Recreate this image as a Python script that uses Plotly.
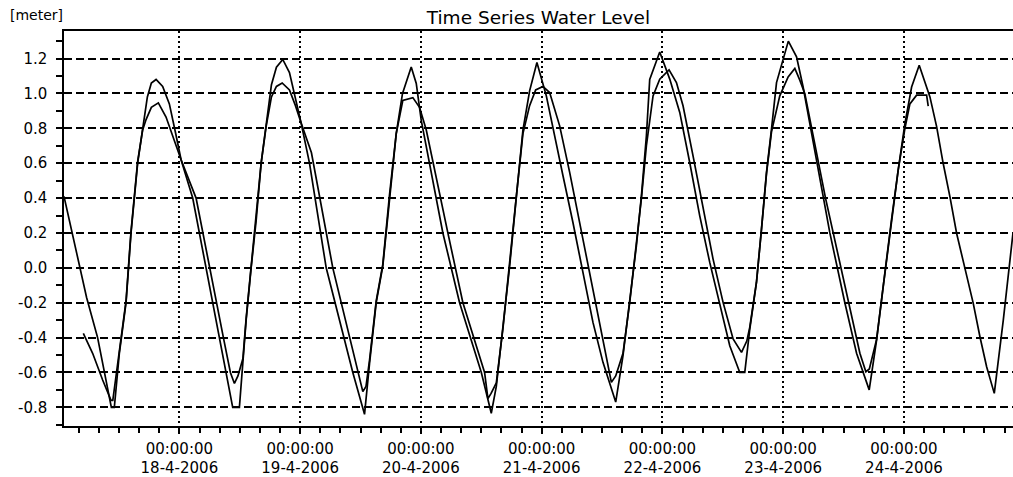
import pandas as pd
import plotly.graph_objects as go

BASE = pd.Timestamp("2006-04-17 00:00:00")

# Series A (outer curve): hours since 17-4-2006 00:00 and water level [m]
A_hours = [1.07, 5.56, 7.75, 10.48, 11.07,
           12.07, 13.40, 14.39, 15.71, 16.70, 17.64, 18.43, 19.37,
           20.68, 22.01, 23.34, 24.34, 26.65, 29.31, 31.82, 33.55, 34.60, 35.93,
           36.53, 37.27, 38.26, 39.26, 40.25, 41.24, 42.30, 43.29, 44.55,
           45.88, 47.07, 48.20, 49.86, 53.18, 58.47, 60.80,
           61.79, 63.12, 64.43, 65.77, 67.10, 68.35, 70.08,
           71.08, 72.07, 76.37, 79.69, 84.01, 85.99,
           86.99, 88.30, 89.63, 90.97, 92.28, 93.61, 95.06,
           96.93, 98.25, 100.24, 102.22, 104.21, 106.20, 108.19, 110.72,
           112.17, 113.50, 114.83, 115.83, 116.82, 117.48, 119.47,
           121.46, 123.45, 125.43, 127.42, 129.41, 131.40, 133.39, 135.38, 136.37,
           137.37, 138.70, 139.69, 140.69, 141.68, 142.68, 145.03,
           146.66, 147.97, 151.95, 153.28, 156.26, 158.59, 161.10,
           162.57, 163.88, 165.55, 166.86, 168.20, 169.53, 171.04,
           173.17, 174.50, 175.81, 177.15, 178.48, 180.13, 181.78, 183.11, 184.44, 185.96,
           187.75, 189.68]
A_level = [0.41, -0.17, -0.40, -0.80, -0.80,
           -0.49, -0.20, 0.20, 0.60, 0.81, 0.98, 1.06, 1.08,
           1.04, 0.94, 0.76, 0.62, 0.40, 0.00, -0.40, -0.66, -0.80, -0.80,
           -0.56, -0.30, 0.00, 0.27, 0.60, 0.81, 1.05, 1.15, 1.195,
           1.12, 0.97, 0.83, 0.60, 0.00, -0.60, -0.84,
           -0.55, -0.20, 0.01, 0.41, 0.77, 1.00, 1.152,
           1.057, 0.846, 0.20, -0.20, -0.60, -0.834,
           -0.68, -0.357, 0.006, 0.407, 0.79, 1.015, 1.177,
           0.986, 0.795, 0.528, 0.26, -0.026, -0.313, -0.542, -0.77,
           -0.504, -0.198, 0.126, 0.413, 0.757, 1.08, 1.238,
           1.082, 0.891, 0.604, 0.298, 0.031, -0.217, -0.447, -0.60, -0.60,
           -0.351, -0.084, 0.222, 0.547, 0.795, 1.062, 1.30,
           1.21, 1.037, 0.40, 0.20, -0.20, -0.49, -0.70,
           -0.414, -0.109, 0.273, 0.56, 0.827, 1.037, 1.162,
           0.98, 0.81, 0.598, 0.407, 0.197, -0.003, -0.204, -0.395, -0.567, -0.72,
           -0.30, 0.20]

# Series B (inner curve)
B_hours = [4.91, 6.76, 8.75, 10.42, 10.77,
           12.07, 13.40, 14.39, 15.71, 16.70, 17.38, 18.43, 19.82,
           21.35, 23.01, 24.34, 27.32, 29.97, 32.75, 34.14, 34.94,
           35.64, 36.63, 37.27, 38.26, 39.26, 40.25, 41.24, 42.30, 43.29, 44.43,
           45.88, 47.07, 48.20, 50.25, 54.49, 59.46, 60.46,
           61.09, 61.79, 63.12, 64.43, 65.77, 67.10, 68.41, 70.40,
           71.73, 73.07, 77.36, 80.35, 84.66, 85.32,
           85.95, 86.99, 88.30, 89.63, 90.97, 92.28, 93.61, 94.81, 96.26,
           97.59, 99.58, 101.57, 103.56, 105.55, 107.53, 109.86,
           110.72, 112.17, 113.50, 114.83, 115.83, 116.82, 117.48, 118.14, 119.47, 121.32,
           122.79, 124.10, 126.09, 128.08, 130.07, 132.06, 134.05, 135.72,
           136.77, 137.37, 138.70, 139.69, 140.69, 141.68, 143.33, 144.99, 146.32,
           147.31, 148.31, 152.42, 153.94, 156.92, 159.25, 160.44,
           161.13, 162.57, 163.88, 165.55, 166.86, 168.20, 169.19, 170.52, 172.51, 172.83]
B_level = [-0.376, -0.49, -0.643, -0.76, -0.76,
           -0.47, -0.19, 0.21, 0.61, 0.79, 0.85, 0.92, 0.946,
           0.865, 0.73, 0.62, 0.40, 0.00, -0.40, -0.60, -0.663,
           -0.62, -0.52, -0.29, 0.01, 0.28, 0.60, 0.81, 0.98, 1.04, 1.06,
           1.02, 0.93, 0.83, 0.66, 0.00, -0.60, -0.71,
           -0.68, -0.53, -0.19, 0.02, 0.42, 0.77, 0.96, 0.976,
           0.92, 0.79, 0.20, -0.20, -0.60, -0.75,
           -0.72, -0.66, -0.35, 0.01, 0.41, 0.77, 0.93, 1.02, 1.04,
           1.005, 0.814, 0.547, 0.26, -0.045, -0.332, -0.657,
           -0.62, -0.49, -0.20, 0.126, 0.40, 0.70, 0.85, 0.986, 1.082, 1.135,
           1.062, 0.929, 0.642, 0.337, 0.05, -0.198, -0.408, -0.485,
           -0.42, -0.34, -0.08, 0.22, 0.54, 0.78, 0.986, 1.095, 1.143,
           1.076, 0.999, 0.40, 0.20, -0.20, -0.49, -0.596,
           -0.58, -0.41, -0.10, 0.28, 0.56, 0.80, 0.94, 0.99, 0.99, 0.927]

assert len(A_hours) == len(A_level)
assert len(B_hours) == len(B_level)

DAY_TICKS = ["2006-04-18", "2006-04-19", "2006-04-20", "2006-04-21",
             "2006-04-22", "2006-04-23", "2006-04-24"]
DAY_LABELS = ["00:00:00<br>18-4-2006", "00:00:00<br>19-4-2006", "00:00:00<br>20-4-2006",
              "00:00:00<br>21-4-2006", "00:00:00<br>22-4-2006", "00:00:00<br>23-4-2006",
              "00:00:00<br>24-4-2006"]
Y_TICKS = [-0.8, -0.6, -0.4, -0.2, 0.0, 0.2, 0.4, 0.6, 0.8, 1.0, 1.2]
Y_LABELS = ["-0.8", "-0.6", "-0.4", "-0.2", "0.0", "0.2", "0.4", "0.6", "0.8", "1.0", "1.2"]

X_START_H = 1.07
X_END_H = 189.68
Y_RANGE = [-0.907, 1.358]


def to_time(hours):
    return [BASE + pd.Timedelta(hours=h) for h in hours]


FONT = "DejaVu Sans"

fig = go.Figure()
fig.add_trace(go.Scatter(x=to_time(A_hours), y=A_level, mode="lines",
                         line=dict(color="black", width=1.7), name="A"))
fig.add_trace(go.Scatter(x=to_time(B_hours), y=B_level, mode="lines",
                         line=dict(color="black", width=1.7), name="B"))

fig.update_layout(
    width=1013, height=477,
    margin=dict(l=64, r=0, t=31, b=51),
    paper_bgcolor="white", plot_bgcolor="white",
    showlegend=False,
    font=dict(family=FONT, size=15, color="black"),
    title=dict(text="Time Series Water Level", x=0.5315, xanchor="center",
               y=1 - 17.5 / 477, yanchor="middle",
               font=dict(family=FONT, size=18.5, color="black")),
    annotations=[dict(text="[meter]", xref="paper", yref="paper",
                      x=-0.059, y=1.041, xanchor="left", yanchor="middle",
                      showarrow=False, font=dict(family=FONT, size=14, color="black"))],
)

fig.update_xaxes(
    type="date",
    range=[BASE + pd.Timedelta(hours=X_START_H), BASE + pd.Timedelta(hours=X_END_H)],
    tickmode="array", tickvals=DAY_TICKS, ticktext=DAY_LABELS,
    ticks="outside", ticklen=6, tickwidth=1.5, tickcolor="black",
    ticklabelstandoff=2,
    showline=True, linecolor="black", linewidth=1.5, mirror=True,
    showgrid=True, gridcolor="black", gridwidth=1.5, griddash="2px,3px",
    minor=dict(tickmode="linear", tick0="2006-04-18", dtick=4 * 3600 * 1000,
               ticks="outside", ticklen=5, tickwidth=1.5, tickcolor="black", showgrid=False),
    tickfont=dict(family=FONT, size=15, color="black"),
    zeroline=False,
)
fig.update_yaxes(
    range=Y_RANGE,
    tickmode="array", tickvals=Y_TICKS, ticktext=Y_LABELS,
    ticks="outside", ticklen=6, tickwidth=1.5, tickcolor="black",
    ticklabelstandoff=6,
    showline=True, linecolor="black", linewidth=1.5,
    showgrid=True, gridcolor="black", gridwidth=1.5, griddash="8px,4px",
    minor=dict(tickmode="linear", tick0=0, dtick=0.1,
               ticks="outside", ticklen=6, tickwidth=1.5, tickcolor="black", showgrid=False),
    tickfont=dict(family=FONT, size=15, color="black"),
    zeroline=False,
)

fig.write_html("out.html")
